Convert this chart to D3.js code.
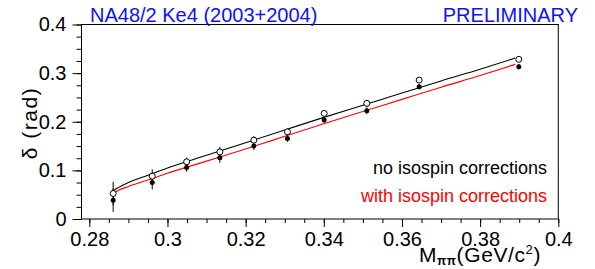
<!DOCTYPE html>
<html>
<head>
  <meta charset="utf-8">
  <title>delta vs Mpipi</title>
  <script src="https://d3js.org/d3.v7.min.js"></script>
  <style>
  body {
    margin: 0;
    background: white;
  }
  svg {
    display: block;
    font-family: 'Liberation Sans', Arial, sans-serif;
  }
  .tick text {
    font-size: 20px;
    fill: black;
  }
  .tick line {
    stroke: black;
  }
  </style>
</head>
<body>
<div id='container'></div>

<script>

  // measured points (M_pipi in GeV/c^2, delta in rad)
  var mass = [0.2861, 0.2961, 0.3049, 0.3134, 0.3221, 0.3307, 0.3401, 0.3510, 0.3644, 0.3899]
  var deltaNoIso = [0.0525, 0.0881, 0.1176, 0.1380, 0.1622, 0.1793, 0.2172, 0.2378, 0.2857, 0.3284]
  var deltaIso = [0.0387, 0.0751, 0.1060, 0.1258, 0.1500, 0.1657, 0.2034, 0.2225, 0.2720, 0.3131]
  var deltaErr = [0.024, 0.014, 0.009, 0.010, 0.008, 0.007, 0.006, 0.007, 0.0055, 0.0054]

  // fitted curves
  var curveMass = [0.2860, 0.2865, 0.2875, 0.2900, 0.2950, 0.3000, 0.3100, 0.3200, 0.3300, 0.3400, 0.3500, 0.3600, 0.3700, 0.3800, 0.3890]
  var curveNoIso = [0.056, 0.060, 0.065, 0.075, 0.090, 0.105, 0.131, 0.157, 0.183, 0.209, 0.234, 0.259, 0.284, 0.308, 0.331]
  var curveIso = [0.051, 0.054, 0.059, 0.067, 0.080, 0.094, 0.119, 0.144, 0.170, 0.196, 0.221, 0.246, 0.271, 0.295, 0.318]

  var xMajor = [0.28, 0.3, 0.32, 0.34, 0.36, 0.38, 0.4]
  var yMajor = [0, 0.1, 0.2, 0.3, 0.4]

  const width = 595
  const height = 269

  var svg = d3.select('#container')
    .append('svg')
    .attr('width', width)
    .attr('height', height)

  var xScale = d3.scaleLinear()
    .domain([0.278, 0.4])
    .range([81.5, 558.3])

  var yScale = d3.scaleLinear()
    .domain([0, 0.4])
    .range([219, 24.5])

  var fmt = (d) => String(+d.toFixed(3))

  // minor ticks
  var xMinor = d3.range(0, 25).map((i) => 0.28 + i * 0.005).filter((v) => v <= 0.4001)
  var yMinor = d3.range(0, 17).map((i) => i * 0.025)

  svg.append('g')
    .attr('transform', 'translate(0,219)')
    .call(d3.axisBottom(xScale).tickValues(xMinor).tickSize(4).tickFormat(''))
    .call((g) => g.select('.domain').remove())

  svg.append('g')
    .attr('transform', 'translate(0,219)')
    .call(d3.axisBottom(xScale).tickValues(xMajor).tickSize(8).tickPadding(5).tickFormat(fmt))
    .call((g) => g.select('.domain').remove())

  svg.append('g')
    .attr('transform', 'translate(81.5,0)')
    .call(d3.axisLeft(yScale).tickValues(yMinor).tickSize(5).tickFormat(''))
    .call((g) => g.select('.domain').remove())

  svg.append('g')
    .attr('transform', 'translate(81.5,0)')
    .call(d3.axisLeft(yScale).tickValues(yMajor).tickSize(9).tickPadding(6).tickFormat(fmt))
    .call((g) => g.select('.domain').remove())

  // frame
  svg.append('rect')
    .attr('x', xScale(0.278))
    .attr('y', yScale(0.4))
    .attr('width', xScale(0.4) - xScale(0.278))
    .attr('height', yScale(0) - yScale(0.4))
    .style('fill', 'none')
    .style('stroke', 'black')
    .style('stroke-width', 1)

  // curves
  var line = d3.line()
    .x((d) => xScale(d[0]))
    .y((d) => yScale(d[1]))
    .curve(d3.curveMonotoneX)

  svg.append('path')
    .datum(d3.zip(curveMass, curveNoIso))
    .attr('d', line)
    .style('fill', 'none')
    .style('stroke', 'black')
    .style('stroke-width', 1.1)

  svg.append('path')
    .datum(d3.zip(curveMass, curveIso))
    .attr('d', line)
    .style('fill', 'none')
    .style('stroke', '#ff0000')
    .style('stroke-width', 1.1)

  // error bars
  var pts = mass.map((m, i) => ({m: m, a: deltaNoIso[i], b: deltaIso[i], e: deltaErr[i]}))

  svg.selectAll('.errA')
    .data(pts)
    .enter()
    .append('line')
    .attr('x1', (d) => xScale(d.m))
    .attr('x2', (d) => xScale(d.m))
    .attr('y1', (d) => yScale(d.a - d.e))
    .attr('y2', (d) => yScale(d.a + d.e))
    .style('stroke', 'black')

  svg.selectAll('.errB')
    .data(pts)
    .enter()
    .append('line')
    .attr('x1', (d) => xScale(d.m))
    .attr('x2', (d) => xScale(d.m))
    .attr('y1', (d) => yScale(d.b - d.e))
    .attr('y2', (d) => yScale(d.b + d.e))
    .style('stroke', 'black')

  svg.selectAll('.ptB')
    .data(pts)
    .enter()
    .append('circle')
    .attr('cx', (d) => xScale(d.m))
    .attr('cy', (d) => yScale(d.b))
    .attr('r', 2.5)
    .style('fill', 'black')

  svg.selectAll('.ptA')
    .data(pts)
    .enter()
    .append('circle')
    .attr('cx', (d) => xScale(d.m))
    .attr('cy', (d) => yScale(d.a))
    .attr('r', 3)
    .style('fill', 'white')
    .style('stroke', 'black')
    .style('stroke-width', 1)

  // texts
  svg.append('text')
    .attr('x', 90)
    .attr('y', 22)
    .style('font-size', '20px')
    .style('fill', '#1010ff')
    .text('NA48/2 Ke4 (2003+2004)')

  svg.append('text')
    .attr('x', 578)
    .attr('y', 22)
    .attr('text-anchor', 'end')
    .style('font-size', '20px')
    .style('fill', '#1010ff')
    .text('PRELIMINARY')

  svg.append('text')
    .attr('x', 547)
    .attr('y', 174)
    .attr('text-anchor', 'end')
    .style('font-size', '18px')
    .style('fill', 'black')
    .text('no isospin corrections')

  svg.append('text')
    .attr('x', 547)
    .attr('y', 202)
    .attr('text-anchor', 'end')
    .style('font-size', '18px')
    .style('fill', '#ff0000')
    .text('with isospin corrections')

  // axis titles
  svg.append('text')
    .attr('transform', 'translate(37,123) rotate(-90)')
    .attr('text-anchor', 'middle')
    .style('font-size', '21px')
    .style('letter-spacing', '1.5px')
    .text('δ (rad)')

  var xt = svg.append('text')
    .attr('x', 541)
    .attr('y', 262)
    .attr('text-anchor', 'end')
    .style('font-size', '21px')
    .style('letter-spacing', '0.6px')
  xt.append('tspan').text('M')
  xt.append('tspan').attr('dy', 3).style('font-size', '12px').style('font-weight', 'bold').text('ππ')
  xt.append('tspan').attr('dy', -3).text('(GeV/c')
  xt.append('tspan').attr('dy', -8).style('font-size', '13px').text('2')
  xt.append('tspan').attr('dy', 8).text(')')

</script>
</body>
</html>
